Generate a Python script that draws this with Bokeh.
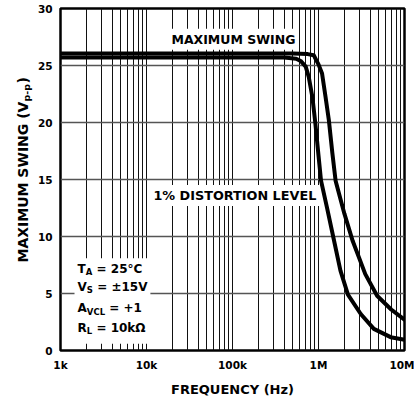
import math
from bokeh.plotting import figure
from bokeh.layouts import row
from bokeh.models import FixedTicker, Label, BoxAnnotation
from bokeh.core.properties import value
from bokeh.embed import file_html
from bokeh.resources import INLINE

# ---- data ----
freq_max = [1e3, 1e4, 1e5, 5e5, 7.5e5, 8.8e5, 1.0e6, 1.1e6, 1.21e6, 1.32e6,
            1.45e6, 1.58e6, 2.0e6, 2.5e6, 3.5e6, 4.8e6, 7.0e6, 1.0e7]
swing_max = [26.05, 26.05, 26.05, 26.05, 26.0, 25.9, 25.1, 24.3, 22.2, 20.2,
             17.3, 14.9, 12.0, 9.6, 6.7, 4.8, 3.6, 2.7]

freq_dist = [1e3, 1e4, 1e5, 4e5, 5.5e5, 6.2e5, 7.1e5, 7.7e5, 8.5e5, 9.2e5,
             1.0e6, 1.07e6, 1.25e6, 1.5e6, 1.8e6, 2.2e6, 3.1e6, 4.4e6, 6.9e6, 1.0e7]
swing_dist = [25.7, 25.7, 25.7, 25.7, 25.6, 25.4, 24.9, 24.0, 22.2, 19.9,
              17.1, 14.9, 12.6, 9.8, 7.0, 4.9, 3.2, 1.9, 1.17, 0.95]

x_ticks = [1e3, 1e4, 1e5, 1e6, 1e7]
x_tick_labels = ["1k", "10k", "100k", "1M", "10M"]
y_ticks = [0, 5, 10, 15, 20, 25, 30]

FONT = "DejaVu Sans"
H = 403
LEFT_W = 34
TOP = 8
BOTTOM = 53

p = figure(width=414 - LEFT_W, height=H, x_axis_type="log",
           x_range=(1e3, 1e7), y_range=(0, 30),
           output_backend="svg", toolbar_location=None,
           min_border_left=60 - LEFT_W, min_border_right=10,
           min_border_top=TOP, min_border_bottom=BOTTOM)
p.background_fill_color = "white"
p.border_fill_color = "white"
p.outline_line_color = "black"
p.outline_line_width = 2.5

minor = [m * 10 ** e for e in range(3, 7) for m in range(2, 10)]
xt = FixedTicker(ticks=x_ticks, minor_ticks=minor)
p.xaxis.ticker = xt
p.xgrid.ticker = xt
p.xaxis.major_label_overrides = {int(t): l for t, l in zip(x_ticks, x_tick_labels)}
yt = FixedTicker(ticks=y_ticks)
p.yaxis.ticker = yt
p.ygrid.ticker = yt

p.xgrid.grid_line_color = "#111111"
p.xgrid.grid_line_width = 1
p.xgrid.minor_grid_line_color = "#111111"
p.xgrid.minor_grid_line_width = 1
p.ygrid.grid_line_color = "#555555"
p.ygrid.grid_line_width = 1.3

for ax in (p.xaxis, p.yaxis):
    ax.axis_line_color = None
    ax.major_tick_line_color = None
    ax.minor_tick_line_color = None
    ax.major_tick_out = 0
    ax.major_tick_in = 0
    ax.minor_tick_out = 0
    ax.minor_tick_in = 0
    ax.major_label_text_font = FONT
    ax.major_label_text_font_style = "bold"
    ax.major_label_text_font_size = "10.5px"
    ax.major_label_text_color = "black"
    ax.major_label_standoff = 8

p.xaxis.axis_label = "FREQUENCY (Hz)"
p.xaxis.axis_label_text_font = FONT
p.xaxis.axis_label_text_font_style = "bold"
p.xaxis.axis_label_text_font_size = "13px"
p.xaxis.axis_label_text_color = "black"
p.xaxis.axis_label_standoff = 8

# curves
p.line(freq_max, swing_max, line_width=4, color="black",
       line_join="round", line_cap="round")
p.line(freq_dist, swing_dist, line_width=4, color="black",
       line_join="round", line_cap="round")

def lab(fig, **kw):
    base = dict(text_font=FONT, text_font_style="bold", text_color="black")
    base.update(kw)
    l = Label(**base)
    fig.add_layout(l)
    return l

# curve labels with white background
lab(p, x=1.80e4, y=27.3, text="MAXIMUM SWING", text_font_size="12.5px",
    text_baseline="middle", background_fill_color="white", padding=3)
lab(p, x=1.11e4, y=13.6, text="1% DISTORTION LEVEL", text_font_size="12.8px",
    text_baseline="middle", background_fill_color="white", padding=3)

# conditions box
p.add_layout(BoxAnnotation(left=1.455e3, right=1.11e4, bottom=0.6, top=8.1,
                           fill_color="white", fill_alpha=1.0, line_color=None))
x0 = 1.58e3
sub_dy = 0.27
sp = 4.2
lines = [
    (7.17, "T", 8.18, "A", 6.58, "= 25°C"),
    (5.55, "V", 9.29, "S", 6.12, "= ±15V"),
    (3.69, "A", 9.29, "VCL", 18.23, "= +1"),
    (2.01, "R", 9.24, "L", 5.41, "= 10kΩ"),
]
for yb, main, wm, sub, ws, rest in lines:
    lab(p, x=x0, y=yb, text=main, text_font_size="12px", text_baseline="alphabetic")
    lab(p, x=x0, y=yb - sub_dy, x_offset=wm, text=sub, text_font_size="8.5px",
        text_baseline="alphabetic")
    lab(p, x=x0, y=yb, x_offset=wm + ws + sp, text=rest, text_font_size="12px",
        text_baseline="alphabetic")

# narrow left strip holding the rotated y-axis title (with subscript);
# its frame is aligned with the main frame by the row layout, so use
# a range in which one unit is one pixel (y = H - page_y)
left = figure(width=LEFT_W, height=H, x_range=(0, LEFT_W),
              y_range=(BOTTOM, H - TOP),
              output_backend="svg", toolbar_location=None,
              min_border=0, x_axis_location=None, y_axis_location=None)
left.outline_line_color = None
left.background_fill_color = "white"
left.border_fill_color = "white"
left.xgrid.visible = False
left.ygrid.visible = False

ang = math.pi / 2
y0 = H - 262
w_main = 11494 * 14 / 1000
w_sub = 1847 * 9.5 / 1000
seg_x = [22, 25.5, 22]
seg_y = [y0, y0 + w_main, y0 + w_main + w_sub + 0.5]
seg_t = ["MAXIMUM SWING (V", "p-p", ")"]
seg_s = ["14px", "9.5px", "14px"]
left.text(x=seg_x, y=seg_y, text=seg_t, angle=ang,
          text_font=value(FONT), text_font_style="bold",
          text_font_size=seg_s, text_color="black",
          text_align="left", text_baseline="middle")

layout = row(left, p)
open("out.html", "w").write(file_html(layout, INLINE))
